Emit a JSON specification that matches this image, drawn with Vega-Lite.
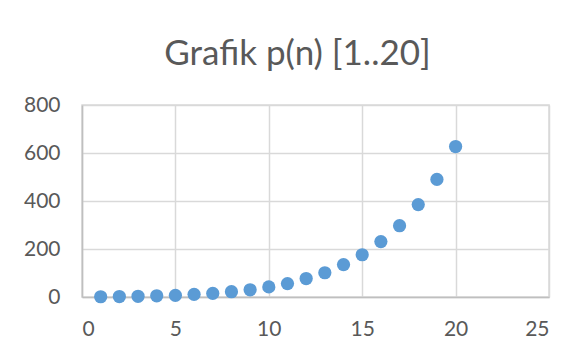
{
  "$schema": "https://vega.github.io/schema/vega-lite/v6.json",
  "autosize": "none",
  "width": 467,
  "height": 192,
  "padding": {"left": 82, "top": 105, "right": 36, "bottom": 59},
  "background": "white",
  "title": {
    "text": "Grafik p(n) [1..20]",
    "font": "Lato",
    "fontSize": 35,
    "fontWeight": "normal",
    "color": "#595959",
    "anchor": "middle",
    "dx": -18,
    "offset": 22
  },
  "data": {
    "values": [
      {"n": 1, "p": 1}, {"n": 2, "p": 2}, {"n": 3, "p": 3}, {"n": 4, "p": 5},
      {"n": 5, "p": 7}, {"n": 6, "p": 11}, {"n": 7, "p": 15}, {"n": 8, "p": 22},
      {"n": 9, "p": 30}, {"n": 10, "p": 42}, {"n": 11, "p": 56}, {"n": 12, "p": 77},
      {"n": 13, "p": 101}, {"n": 14, "p": 135}, {"n": 15, "p": 176}, {"n": 16, "p": 231},
      {"n": 17, "p": 297}, {"n": 18, "p": 385}, {"n": 19, "p": 490}, {"n": 20, "p": 627}
    ]
  },
  "mark": {"type": "point", "filled": true, "shape": "circle", "size": 175, "color": "#5B9BD5", "opacity": 1},
  "encoding": {
    "x": {
      "field": "n", "type": "quantitative",
      "scale": {"domain": [0, 25], "nice": false, "zero": true},
      "axis": {"title": null, "values": [0, 5, 10, 15, 20, 25], "tickSize": 0, "labelPadding": 21,
               "domainColor": "#BFBFBF", "domainWidth": 1.5, "gridColor": "#D9D9D9", "gridWidth": 1.5,
               "labelFont": "Lato", "labelFontSize": 21, "labelColor": "#595959"}
    },
    "y": {
      "field": "p", "type": "quantitative",
      "scale": {"domain": [0, 800], "nice": false},
      "axis": {"title": null, "values": [0, 200, 400, 600, 800], "tickSize": 0, "labelPadding": 22,
               "domainColor": "#BFBFBF", "domainWidth": 1.5, "gridColor": "#D9D9D9", "gridWidth": 1.5,
               "labelFont": "Lato", "labelFontSize": 21, "labelColor": "#595959"}
    }
  },
  "config": {"view": {"stroke": "#D9D9D9", "strokeWidth": 1.5}}
}
